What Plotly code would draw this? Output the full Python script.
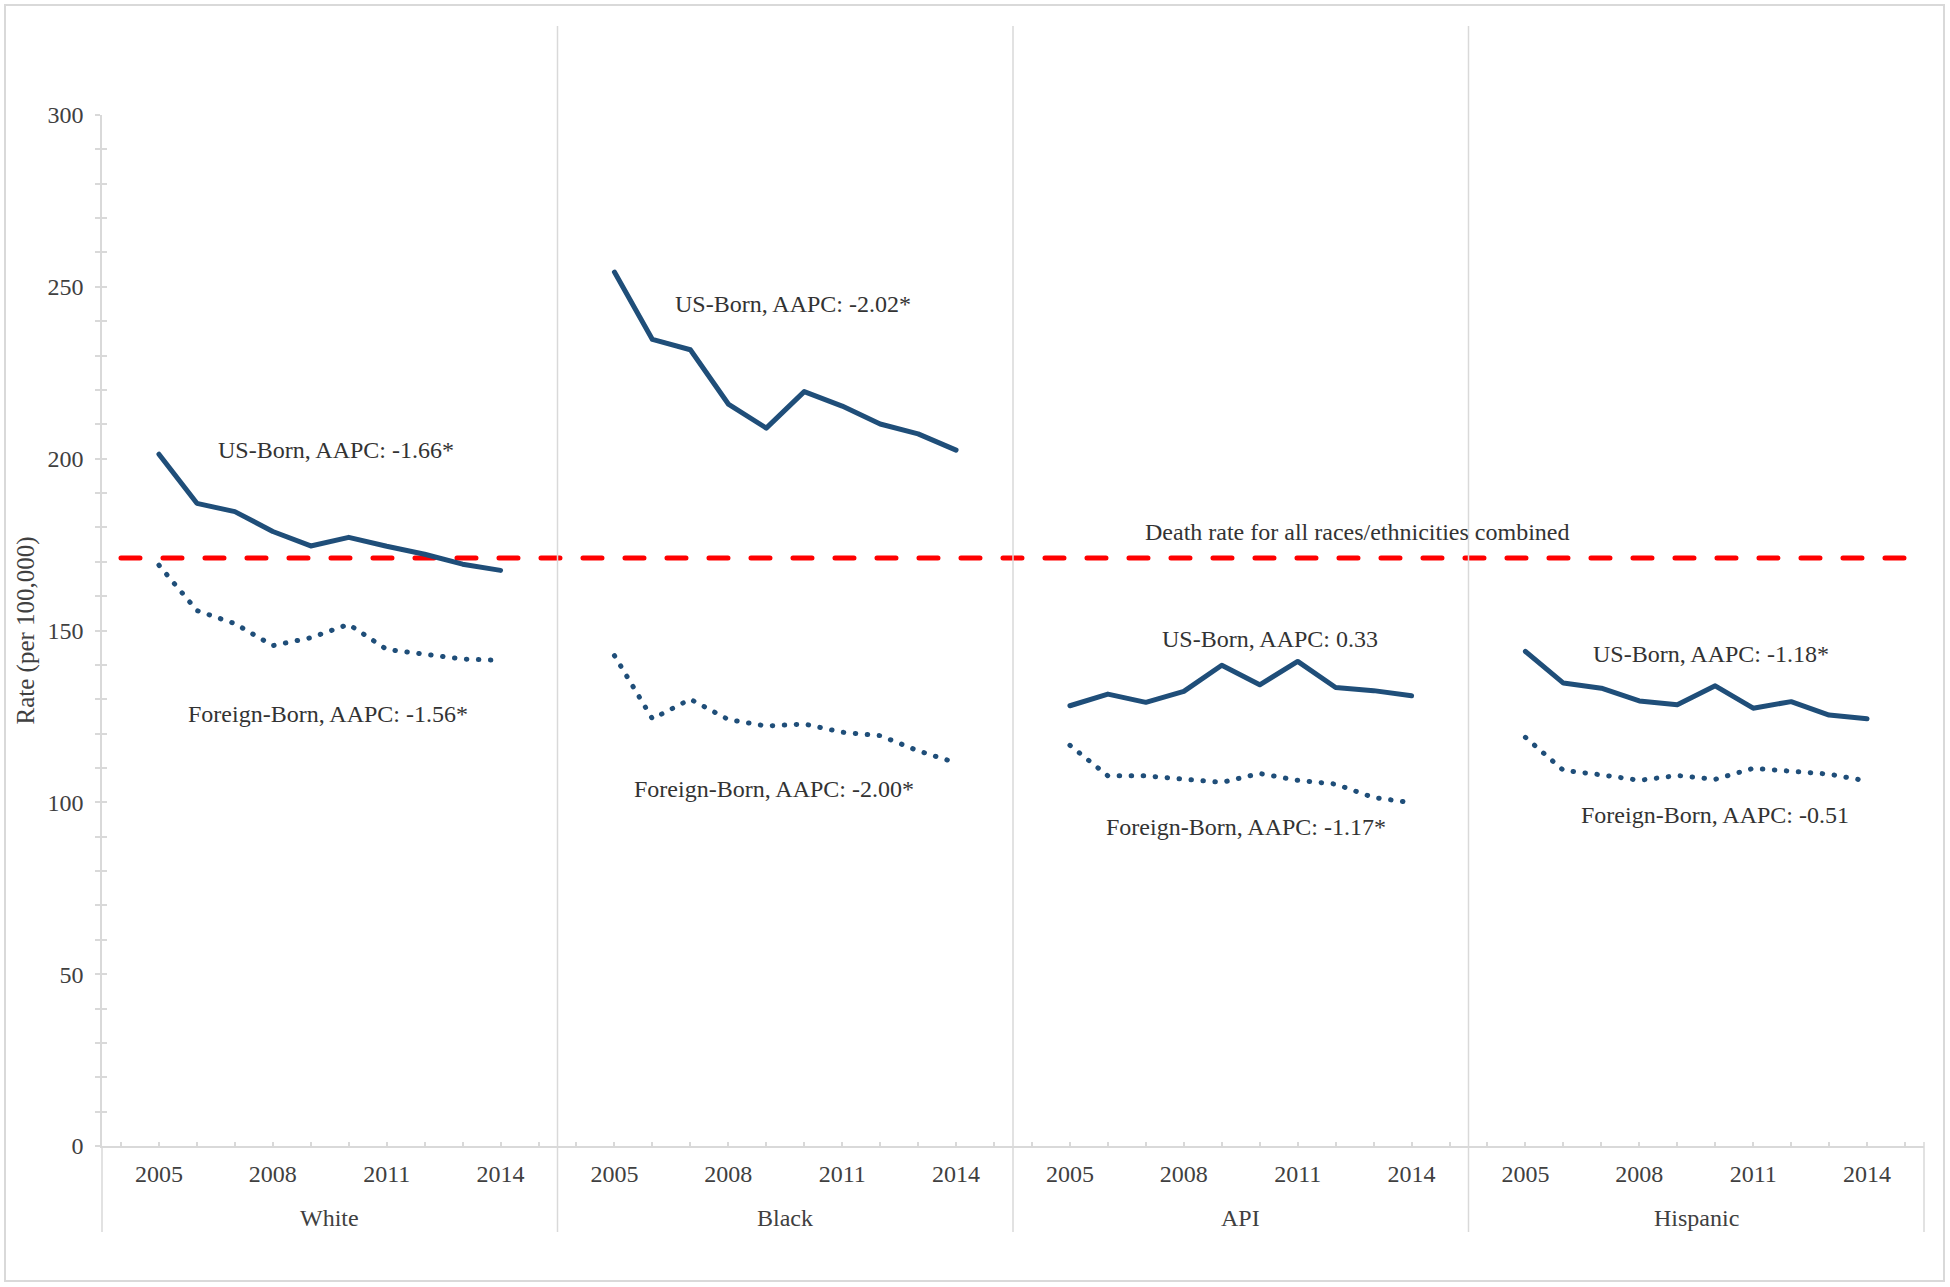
import plotly.graph_objects as go

# ---------------- data ----------------
groups = ["White", "Black", "API", "Hispanic"]
years = [2005, 2006, 2007, 2008, 2009, 2010, 2011, 2012, 2013, 2014]
labeled_years = [2005, 2008, 2011, 2014]

white_us = [201.3, 187.0, 184.6, 178.8, 174.6, 177.1, 174.5, 172.2, 169.3, 167.5]
white_fb = [169.0, 155.8, 152.0, 145.6, 147.9, 151.8, 144.5, 143.1, 141.7, 141.3]
black_us = [254.3, 234.7, 231.7, 215.9, 208.9, 219.5, 215.3, 210.1, 207.2, 202.5]
black_fb = [142.7, 124.3, 130.0, 124.1, 122.2, 122.8, 120.4, 119.4, 115.0, 111.5]
api_us = [128.1, 131.5, 129.1, 132.3, 139.9, 134.2, 141.0, 133.4, 132.5, 131.0]
api_fb = [116.6, 107.7, 107.7, 106.9, 105.8, 108.4, 106.4, 105.3, 101.4, 99.9]
hisp_us = [143.9, 134.7, 133.2, 129.5, 128.4, 133.9, 127.4, 129.3, 125.4, 124.3]
hisp_fb = [118.9, 109.3, 108.0, 106.4, 107.8, 106.7, 109.9, 109.0, 108.2, 106.2]
all_races_rate = 171.1

us_labels = ["US-Born, AAPC: -1.66*", "US-Born, AAPC: -2.02*",
             "US-Born, AAPC: 0.33", "US-Born, AAPC: -1.18*"]
fb_labels = ["Foreign-Born, AAPC: -1.56*", "Foreign-Born, AAPC: -2.00*",
             "Foreign-Born, AAPC: -1.17*", "Foreign-Born, AAPC: -0.51"]
all_label = "Death rate for all races/ethnicities combined"

# ---------------- layout constants ----------------
W, H = 1950, 1287
ML, MR, MT, MB = 102, 26, 115, 141
PW, PH = W - ML - MR, H - MT - MB
SLOTS = 12          # category slots per group (1 blank, 10 years, 1 blank)
LEAD = 1
NSLOT = SLOTS * len(groups)

NAVY = "#1F4E79"
RED = "#FF0000"
AXC = "#D9D9D9"
TXT = "#404040"
LBL = "#333333"
FONT = "Liberation Serif, Times New Roman, serif"


def xpos(g, yr):
    return g * SLOTS + LEAD + years.index(yr) + 0.5


def px_x(px):
    return (px - ML) / PW


def px_y(py):
    return (H - MB - py) / PH


series_us = [white_us, black_us, api_us, hisp_us]
series_fb = [white_fb, black_fb, api_fb, hisp_fb]

fig = go.Figure()

# all-races reference line
fig.add_trace(go.Scatter(
    x=[0.5, NSLOT - 0.5], y=[all_races_rate, all_races_rate], mode="lines",
    line=dict(color=RED, width=5, dash="19px,23px"), hoverinfo="skip",
    showlegend=False))

for g in range(len(groups)):
    xs = [xpos(g, yr) for yr in years]
    fig.add_trace(go.Scatter(x=xs, y=series_us[g], mode="lines",
                             line=dict(color=NAVY, width=5),
                             showlegend=False, name=groups[g] + " US-Born"))
    fig.add_trace(go.Scatter(x=xs, y=series_fb[g], mode="lines",
                             line=dict(color=NAVY, width=5, dash="0.5px,11.5px"),
                             showlegend=False, name=groups[g] + " Foreign-Born"))

# invisible trace for the overlay axis (crossing ticks)
fig.add_trace(go.Scatter(x=[0], y=[0], yaxis="y2", mode="markers",
                         marker=dict(opacity=0), hoverinfo="skip",
                         showlegend=False))

tickvals = [s + 0.5 for s in range(NSLOT)]
ticktext = []
for s in range(NSLOT):
    k = s % SLOTS - LEAD
    if 0 <= k < len(years) and years[k] in labeled_years:
        ticktext.append(str(years[k]))
    else:
        ticktext.append("")

annotations = []
# series labels (positions in data units)
us_pos = [(6.16, 202.4), (18.2, 245.1), (30.77, 147.4), (42.38, 143.3)]
fb_pos = [(5.95, 125.6), (17.7, 104.0), (30.15, 92.8), (42.5, 96.4)]
for g in range(len(groups)):
    annotations.append(dict(x=us_pos[g][0], y=us_pos[g][1], xref="x", yref="y",
                            text=us_labels[g], showarrow=False,
                            font=dict(family=FONT, size=24, color=LBL)))
    annotations.append(dict(x=fb_pos[g][0], y=fb_pos[g][1], xref="x", yref="y",
                            text=fb_labels[g], showarrow=False,
                            font=dict(family=FONT, size=24, color=LBL)))
annotations.append(dict(x=33.07, y=178.7, xref="x", yref="y", text=all_label,
                        showarrow=False,
                        font=dict(family=FONT, size=24, color=LBL)))
# group labels
for g in range(len(groups)):
    annotations.append(dict(x=g * SLOTS + SLOTS / 2, y=px_y(1218), xref="x",
                            yref="paper", text=groups[g], showarrow=False,
                            yanchor="middle",
                            font=dict(family=FONT, size=24, color=TXT)))
# y axis title
annotations.append(dict(x=px_x(25), y=0.5, xref="paper", yref="paper",
                        text="Rate (per 100,000)", textangle=-90,
                        showarrow=False, xanchor="center", yanchor="middle",
                        font=dict(family=FONT, size=25, color=TXT)))

shapes = []
# outer border
shapes.append(dict(type="rect", xref="paper", yref="paper",
                   x0=px_x(5), x1=px_x(1944), y0=px_y(1281), y1=px_y(5),
                   line=dict(color=AXC, width=2)))
# group dividers
for g in range(1, len(groups)):
    xp = g * SLOTS / NSLOT
    shapes.append(dict(type="line", xref="paper", yref="paper",
                       x0=xp, x1=xp, y0=px_y(1232), y1=px_y(26),
                       line=dict(color=AXC, width=1.5)))
# axis-end extensions below the category axis
for xp, ytop in [(0, 1146), (1, 1142)]:
    shapes.append(dict(type="line", xref="paper", yref="paper",
                       x0=xp, x1=xp, y0=px_y(1232), y1=px_y(ytop),
                       line=dict(color=AXC, width=1.5)))

fig.update_layout(
    width=W, height=H, autosize=False,
    margin=dict(l=ML, r=MR, t=MT, b=MB, pad=0),
    paper_bgcolor="white", plot_bgcolor="white",
    showlegend=False,
    xaxis=dict(range=[0, NSLOT], tickmode="array", tickvals=tickvals,
               ticktext=ticktext, ticks="inside", ticklen=4, tickwidth=1.5,
               tickcolor=AXC, showline=True, linecolor=AXC, linewidth=1.5,
               showgrid=False, zeroline=False, ticklabelstandoff=5,
               tickfont=dict(family=FONT, size=24, color=TXT), fixedrange=True),
    yaxis=dict(range=[0, 300], tickmode="linear", tick0=0, dtick=50,
               ticks="outside", ticklen=5, tickwidth=1.5, tickcolor=AXC,
               minor=dict(dtick=10, ticks="outside", ticklen=5,
                          tickwidth=1.5, tickcolor=AXC, showgrid=False),
               showline=True, linecolor=AXC, linewidth=1.5, showgrid=False,
               zeroline=False, ticklabelstandoff=7,
               tickfont=dict(family=FONT, size=24, color=TXT), fixedrange=True),
    yaxis2=dict(range=[0, 300], overlaying="y", side="left", tickmode="linear",
                tick0=0, dtick=50, ticks="inside", ticklen=5, tickwidth=1.5,
                tickcolor=AXC,
                minor=dict(dtick=10, ticks="inside", ticklen=5,
                           tickwidth=1.5, tickcolor=AXC, showgrid=False),
                showticklabels=False, showline=False, showgrid=False,
                zeroline=False, fixedrange=True),
    annotations=annotations,
    shapes=shapes,
)

post = """
var st = document.createElement('style');
st.innerHTML = 'html,body{margin:0;padding:0;overflow:hidden;}' +
  '.js-line{stroke-linecap:round !important;stroke-linejoin:round !important;}';
document.head.appendChild(st);
"""

fig.write_html("out.html", config={"displayModeBar": False}, post_script=post)
